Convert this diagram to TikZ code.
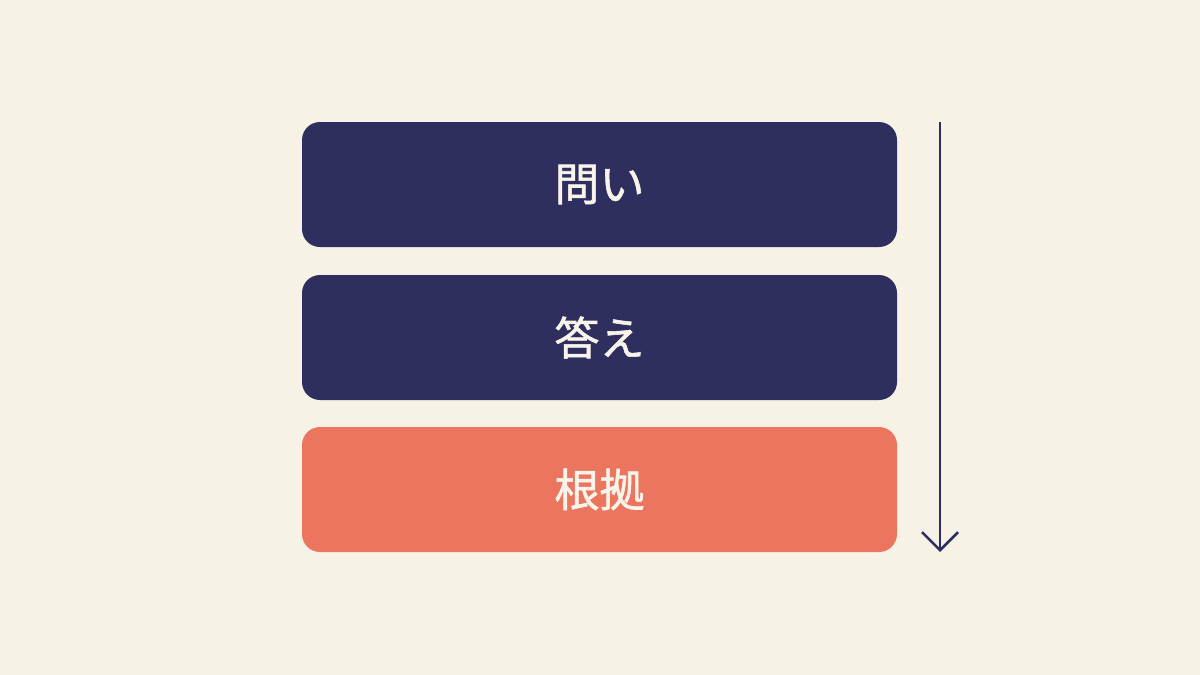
\documentclass[tikz,border=0pt]{standalone}
\usepackage{fontspec}
\newfontfamily\cjk[FakeBold=1.2]{Noto Sans CJK JP}
\usetikzlibrary{arrows.meta}
\definecolor{bg}{HTML}{F6F2E6}
\definecolor{navy}{HTML}{2E2F5E}
\definecolor{coral}{HTML}{EC7560}
\definecolor{cream}{HTML}{F8F4EA}
\tikzset{
  stackbox/.style={rounded corners=18pt, minimum width=595pt, minimum height=125pt, inner sep=0pt,
    text=cream, font=\cjk\fontsize{45}{50}\selectfont},
  flowarrow/.style={draw=navy, line width=2.6pt, -{Straight Barb[length=18pt,width=36pt,line width=2.6pt]}}
}
\begin{document}
\begin{tikzpicture}[x=1pt,y=-1pt]
\fill[bg] (0,0) rectangle (1200,675);
\useasboundingbox (0,0) rectangle (1200,675);
\node[stackbox, fill=navy] (q) at (599.5,184.5) {問い};
\node[stackbox, fill=navy] (a) at (599.5,337.5) {答え};
\node[stackbox, fill=coral] (r) at (599.5,489.5) {根拠};
\coordinate (as) at (940,122);
\coordinate (ae) at (940,552);
\draw[flowarrow] (as) -- (ae);
\end{tikzpicture}
\end{document}
